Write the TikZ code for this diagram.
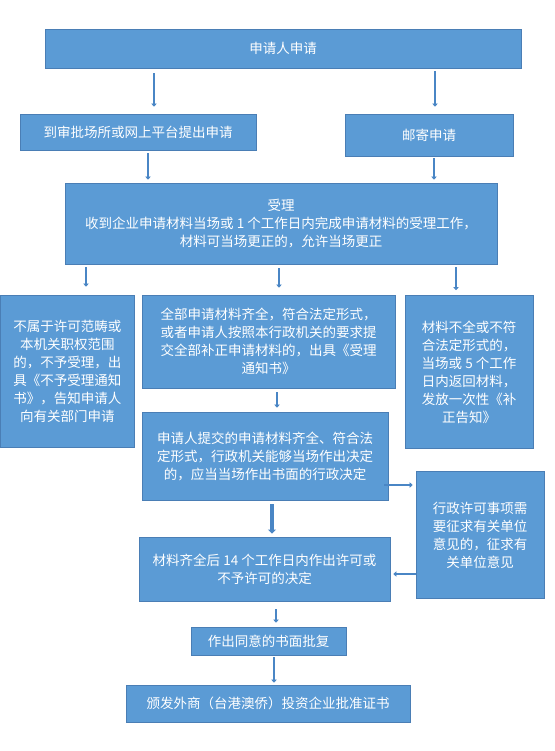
\documentclass[tikz,border=0pt]{standalone}
\usepackage{fontspec}
\newfontfamily\cjk{Noto Sans CJK SC}
\usetikzlibrary{arrows.meta}
\definecolor{boxblue}{HTML}{5B9BD5}
\definecolor{boxline}{HTML}{4A7EB5}
\definecolor{arrblue}{HTML}{4A86C5}
\tikzset{
	box/.style={draw=boxline, line width=0.8pt, fill=boxblue, text=white, align=center, inner sep=0pt, font=\cjk\fontsize{13.5}{18}\selectfont},
	arr/.style={draw=arrblue, line width=2pt, -{Triangle[width=5.5pt,length=3pt]}},
	bigarr/.style={arr, line width=4.5pt, -{Triangle[width=8pt,length=4pt]}}
}
\begin{document}
\begin{tikzpicture}[x=1pt, y=-1pt]
		\useasboundingbox (0,0) rectangle (554,751);
		\node[box, minimum width=476pt, minimum height=39pt] (apply) at (283,48.5) {申请人申请};
		\node[box, minimum width=236pt, minimum height=36pt] (site) at (138,132) {到审批场所或网上平台提出申请};
		\node[box, minimum width=168pt, minimum height=42pt] (mail) at (429,135) {邮寄申请};
		\draw[arr, shorten <=5pt, shorten >=7pt] (apply.south -| 154,0) -- (site.north -| 154,0);
		\draw[arr, shorten <=3pt, shorten >=7pt] (apply.south -| 435,0) -- (mail.north -| 435,0);
		
		\node[box, minimum width=432pt, minimum height=81pt] (accept) at (281,223.5) {受理\\收到企业申请材料当场或 1 个工作日内完成申请材料的受理工作，\\材料可当场更正的，允许当场更正};
		\draw[arr, shorten <=3pt, shorten >=3pt] (site.south -| 148,0) -- (accept.north -| 148,0);
		\draw[arr, shorten <=2pt, shorten >=3pt] (mail.south -| 434,0) -- (accept.north -| 434,0);
		
		\node[box, minimum width=134pt, minimum height=152pt] (reject) at (67.4,371) {不属于许可范畴或\\本机关职权范围\\的，不予受理，出\\具《不予受理通知\\书》，告知申请人\\向有关部门申请};
		\node[box, minimum width=253pt, minimum height=93pt] (notice) at (268.5,341.5) {全部申请材料齐全，符合法定形式，\\或者申请人按照本行政机关的要求提\\交全部补正申请材料的，出具《受理\\通知书》};
		\node[box, minimum width=128pt, minimum height=153pt] (correct) at (469,372) {材料不全或不符\\合法定形式的，\\当场或 5 个工作\\日内返回材料，\\发放一次性《补\\正告知》};
		\draw[arr, shorten <=3pt, shorten >=8pt] (accept.south -| 86,0) -- (reject.north -| 86,0);
		\draw[arr, shorten <=4pt, shorten >=7pt] (accept.south -| 279,0) -- (notice.north -| 279,0);
		\draw[arr, shorten <=3pt, shorten >=5pt] (accept.south -| 456,0) -- (correct.north -| 456,0);
		
		\node[box, minimum width=246pt, minimum height=88pt] (decide) at (265,456) {申请人提交的申请材料齐全、符合法\\定形式，行政机关能够当场作出决定\\的，应当当场作出书面的行政决定};
		\node[box, minimum width=128pt, minimum height=127pt] (consult) at (480,535) {行政许可事项需\\要征求有关单位\\意见的，征求有\\关单位意见};
		\draw[arr, shorten <=4pt, shorten >=4pt] (notice.south -| 277,0) -- (decide.north -| 277,0);
		\draw[arr, shorten <=-4pt, shorten >=3pt] (decide.east |- 0,485) -- (consult.west |- 0,485);
		
		\node[box, minimum width=251pt, minimum height=64pt] (fourteen) at (264.5,569) {材料齐全后 14 个工作日内作出许可或\\不予许可的决定};
		\draw[bigarr, shorten <=4pt, shorten >=3pt] (decide.south -| 272,0) -- (fourteen.north -| 272,0);
		\draw[arr, shorten >=3pt] (consult.west |- 0,574) -- (fourteen.east |- 0,574);
		
		\node[box, minimum width=155pt, minimum height=28pt] (approve) at (268.5,641) {作出同意的书面批复};
		\node[box, minimum width=284pt, minimum height=37pt] (cert) at (268,703.5) {颁发外商（台港澳侨）投资企业批准证书};
		\draw[arr, shorten <=8pt, shorten >=4pt] (fourteen.south -| 276,0) -- (approve.north -| 276,0);
		\draw[arr, shorten <=2pt, shorten >=2pt] (approve.south -| 274,0) -- (cert.north -| 274,0);
\end{tikzpicture}
\end{document}
